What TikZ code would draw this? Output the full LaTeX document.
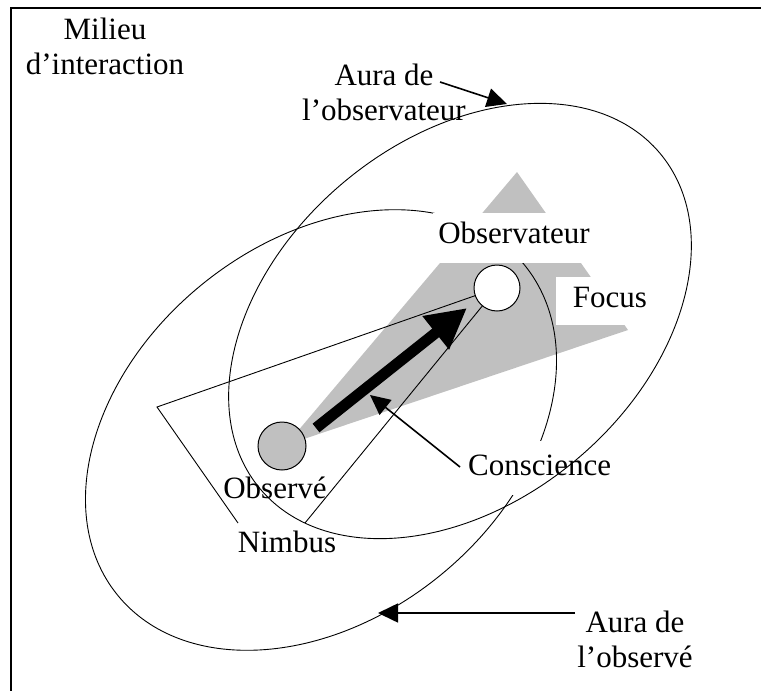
\documentclass[tikz,border=0pt]{standalone}
\usepackage{fontspec}
\setmainfont{Liberation Serif}
\usetikzlibrary{arrows.meta}
\definecolor{focusgray}{RGB}{192,192,192}
\begin{document}
\begin{tikzpicture}[x=1pt,y=-1pt,
  lbl/.style={font=\fontsize{31}{35}\selectfont, inner sep=0pt},
  boxlbl/.style={lbl, fill=white, anchor=base},
  auraline/.style={line width=0.9pt},
  nimbusline/.style={line width=0.9pt},
  pointer/.style={line width=1.6pt, -{Triangle[length=20pt,width=19pt]}},
  entity/.style={circle, draw, line width=1pt, inner sep=0pt},
]
\useasboundingbox (0,0) rectangle (761,691);

% frame of the interaction space (runs past the page on two sides)
\coordinate (frBL) at (11,720);
\coordinate (frTL) at (11,8);
\coordinate (frTR) at (790,8);
\draw[line width=2pt] (frBL) -- (frTL) -- (frTR);

% key points
\coordinate (cA) at (460,321);   % centre of the observer's aura
\coordinate (cB) at (321,430);   % centre of the observed's aura
\coordinate (pObs) at (497,288); % observer
\coordinate (pObd) at (282,446); % observed

% focus wedge
\coordinate (fTop) at (517,172);
\coordinate (fRight) at (628,330);
\coordinate (fLeft) at (286,445);
\fill[focusgray] (fTop) -- (fRight) -- (fLeft) -- cycle;

% aura of the observed
\draw[auraline, rotate around={39:(cB)}] (cB) ellipse [x radius=262pt, y radius=188pt];

% labels that mask what lies under them
\node[boxlbl, text height=30pt, text depth=20pt, inner xsep=5pt] (tObservateur) at (514,243) {Observateur};
\node[boxlbl, text height=30pt, text depth=18pt, inner xsep=17pt] (tFocus) at (610,307) {Focus};
\node[boxlbl, anchor=base west, text height=34pt, text depth=20pt, inner xsep=6pt] (tConscience) at (462,475) {Conscience};

% aura of the observer
\draw[auraline, rotate around={40:(cA)}] (cA) ellipse [x radius=261pt, y radius=181pt];

% nimbus
\coordinate (nbCorner) at (157,407);
\coordinate (nbEndA) at (238,523);
\coordinate (nbEndB) at (305,523);
\draw[nimbusline] (pObs) -- (nbCorner) -- (nbEndA);
\draw[nimbusline] (pObs) -- (nbEndB);

% the two entities
\node[entity, fill=focusgray, minimum size=48pt] (observe) at (pObd) {};
\node[entity, fill=white, minimum size=46pt] (observateur) at (pObs) {};

% awareness arrow
\coordinate (awFrom) at (316,428);
\coordinate (awTo) at (467,308);
\draw[line width=11pt, -{Triangle[length=40pt,width=40pt]}] (awFrom) -- (awTo);

% plain labels
\node[lbl, align=center] (tMilieu) at (105,46) {Milieu\\d’interaction};
\node[lbl, align=center] (tAuraObs) at (384,92) {Aura de\\l’observateur};
\node[lbl, align=center] (tAuraObd) at (635,639) {Aura de\\l’observé};
\node[lbl, anchor=base] (tObserve) at (275,498) {Observé};
\node[lbl, anchor=base] (tNimbus) at (287,552) {Nimbus};

% pointers
\coordinate (ptA1) at (440,82);
\coordinate (ptA2) at (507,104);
\draw[pointer] (ptA1) -- (ptA2);
\coordinate (ptB1) at (575,613);
\coordinate (ptB2) at (378,613);
\draw[pointer] (ptB1) -- (ptB2);
\coordinate (ptC1) at (460,467);
\coordinate (ptC2) at (370,395);
\draw[pointer] (ptC1) -- (ptC2);
\end{tikzpicture}
\end{document}
